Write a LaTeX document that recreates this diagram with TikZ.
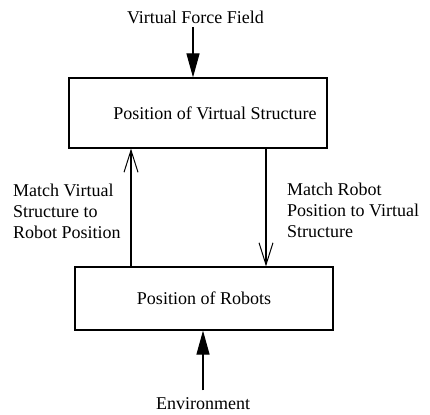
\documentclass[tikz,border=0pt]{standalone}
\usepackage{fontspec}
\setmainfont{Liberation Serif}
\usepackage{tikz}
\usetikzlibrary{arrows.meta}
\usetikzlibrary{positioning}

\tikzset{
  blok/.style={draw, line width=1.2pt, minimum width=258pt, inner sep=0pt},
  vhod/.style={-{Triangle[length=24pt,width=13pt]}, line width=1.2pt},
  svyaz/.style={-{Straight Barb[length=22pt,width=14pt,line width=1pt]}, line width=1.2pt}
}

\begin{document}
\begin{tikzpicture}[x=1pt, y=-1pt, font=\fontsize{18}{21}\selectfont]

  \useasboundingbox (0,0) rectangle (430,414);

  % Блоки
  \node[blok, minimum height=70pt,
        label={[xshift=17pt]center:Position of Virtual Structure}] (vs) at (198,113) {};
  \node[blok, minimum height=63pt] (rob) at (204,298.5) {Position of Robots};

  % Внешние входы
  \node (pole) at (195.5,17) {Virtual Force Field};
  \node (sreda) at (203,404) {Environment};

  \coordinate (xp) at (193,0);
  \coordinate (xs) at (203,0);
  \coordinate (xl) at (131,0);
  \coordinate (xr) at (266,0);

  \draw[vhod] (pole.south -| xp) -- (vs.north -| xp);
  \draw[vhod] (sreda.north -| xs) ++(0,-4) -- (rob.south -| xs);

  % Связи между блоками
  \draw[svyaz] (rob.north -| xl) -- (vs.south -| xl);
  \draw[svyaz] (vs.south -| xr) -- (rob.north -| xr);

  \node[anchor=west, align=left, inner sep=0pt] (levo) at (13,211)
    {Match Virtual\\Structure to\\Robot Position};
  \node[anchor=west, align=left, inner sep=0pt] (pravo) at (287,210)
    {Match Robot\\Position to Virtual\\Structure};

\end{tikzpicture}
\end{document}
